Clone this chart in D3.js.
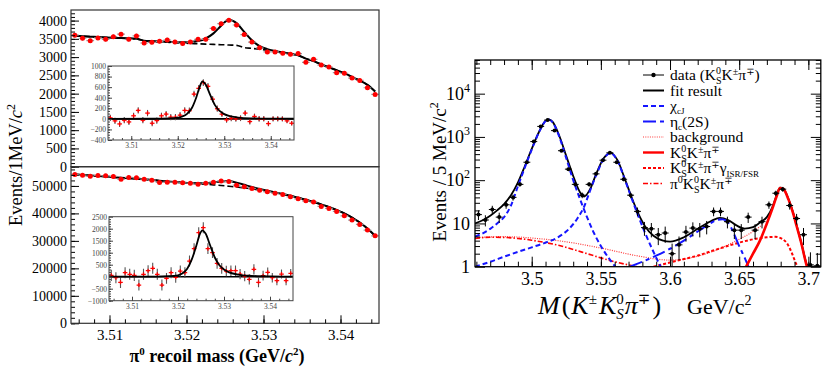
<!DOCTYPE html>
<html>
<head>
<meta charset="utf-8">
<script src="https://cdn.jsdelivr.net/npm/d3@7"></script>
<style>
  body { margin: 0; background: #fff; }
  #chart text { font-family: "Liberation Serif", "Times New Roman", "DejaVu Serif", serif !important; }
</style>
</head>
<body>
<svg id="chart" width="831" height="374"></svg>
<script>
const SERIF = "Liberation Serif, Times New Roman, serif";

// ---- left figure: pi0 recoil mass, 1 MeV bins 3.505 - 3.545 ----
const massBins = d3.range(40).map(i => 3.5055 + 0.001 * i);

const topCounts = [3600, 3516, 3450, 3525, 3488, 3560, 3628, 3488, 3580, 3386,
  3404, 3432, 3469, 3413, 3376, 3413, 3488, 3488, 3786, 3916,
  4009, 3879, 3618, 3413, 3255, 3143, 3143, 3106, 3077, 3096,
  2857, 2940, 2783, 2728, 2574, 2555, 2426, 2363, 2162, 1978];
const topFit = [3585, 3570, 3560, 3550, 3540, 3530, 3522, 3515, 3505, 3450,
  3440, 3430, 3420, 3412, 3405, 3412, 3440, 3510, 3650, 3860,
  4020, 3930, 3690, 3460, 3300, 3220, 3170, 3130, 3090, 3050,
  2960, 2890, 2800, 2720, 2640, 2560, 2460, 2360, 2240, 2060];
const topBkg = [3585, 3570, 3560, 3550, 3540, 3530, 3522, 3515, 3500, 3445,
  3432, 3420, 3408, 3395, 3385, 3375, 3365, 3355, 3348, 3340,
  3332, 3322, 3260, 3240, 3215, 3190, 3160, 3130, 3090, 3050,
  2960, 2890, 2800, 2720, 2640, 2560, 2460, 2360, 2240, 2060];

const botCounts = [54180, 53930, 53560, 53800, 53670, 53450, 52470, 53090, 52940, 52470,
  52110, 51270, 51380, 51380, 51130, 51020, 50650, 51020, 51380, 51750,
  51640, 50290, 49670, 49090, 48470, 47850, 47380, 46910, 46040, 45310,
  44580, 44110, 42540, 41820, 40730, 39130, 37560, 36000, 33930, 31850];
const botFit = [54200, 54000, 53800, 53600, 53400, 53200, 53000, 52800, 52600, 52400,
  52150, 51900, 51650, 51420, 51220, 51050, 50950, 51000, 51300, 51650,
  51750, 51200, 50400, 49600, 48900, 48250, 47650, 47050, 46400, 45700,
  44950, 44150, 43300, 42350, 41250, 40000, 38500, 36700, 34500, 31800];
const botBkg = [54200, 54000, 53800, 53600, 53400, 53200, 53000, 52800, 52600, 52400,
  52150, 51900, 51650, 51420, 51220, 51020, 50820, 50620, 50400, 50150,
  49880, 49600, 49280, 48920, 48520, 48100, 47600, 47050, 46400, 45700,
  44950, 44150, 43300, 42350, 41250, 40000, 38500, 36700, 34500, 31800];

// background-subtracted insets
const topSig = [19, -38, -96, -26, -58, 58, 160, -26, 109, -83,
  -32, 58, 90, 32, 32, 70, 160, 154, 468, 577,
  686, 615, 372, 192, 90, -19, 13, 0, 13, 109,
  -51, 45, 0, 0, -90, 0, 0, 0, -38, -83];
const topSigFitM = [3.505, 3.515, 3.518, 3.520, 3.521, 3.522, 3.523, 3.524, 3.5247, 3.5253,
  3.526, 3.527, 3.528, 3.529, 3.530, 3.531, 3.533, 3.536, 3.540, 3.545];
const topSigFitV = [0, 2, 8, 22, 45, 95, 200, 410, 600, 710,
  650, 450, 260, 150, 90, 55, 25, 10, 4, 2];

const botSig = [56, -42, -236, 167, 100, 56, -347, 100, 250, 347,
  100, -347, -69, 167, -28, 236, 167, 653, 1167, 1833,
  2042, 1167, 1000, 556, 347, 236, 250, 250, 111, 28,
  -111, 306, -236, 42, 181, -42, -167, 111, -167, 139];
const botSigFitM = [3.505, 3.515, 3.518, 3.520, 3.521, 3.522, 3.523, 3.524, 3.5247, 3.5253,
  3.526, 3.527, 3.528, 3.529, 3.530, 3.531, 3.533, 3.536, 3.540, 3.545];
const botSigFitV = [0, 5, 20, 60, 140, 330, 720, 1300, 1750, 1930,
  1800, 1300, 800, 480, 300, 190, 90, 35, 12, 5];

// ---- right figure: M(K K0s pi), 5 MeV bins ----
const kkpBins = d3.range(50).map(i => 3.4615 + 0.005 * i);
const kkpCounts = [16, 12, 21, 14, 27, 40, 80, 260, 780, 1750,
  2450, 1400, 480, 180, 80, 45, 80, 140, 290, 430,
  260, 105, 45, 19, 8, 7.5, 5.5, 6, 2, 3.2,
  6.3, 7.8, 7.5, 8.5, 19, 19, 11, 7, 7, 14,
  7, 11, 27, 50, 62, 26, 13, 5.5, 1.1, 1.05];

const fitTotal = [[3.459,10],[3.465,12],[3.47,15],[3.475,20],[3.48,28],[3.485,45],[3.49,88],[3.495,210],
  [3.50,530],[3.505,1250],[3.51,2350],[3.5125,2550],[3.515,2250],[3.52,1050],[3.525,360],[3.53,125],
  [3.535,52],[3.538,42],[3.542,60],[3.547,150],[3.552,320],[3.557,430],[3.562,290],[3.567,115],
  [3.572,42],[3.577,17],[3.582,8.5],[3.588,5.2],[3.595,4.0],[3.60,3.8],[3.61,4.8],[3.62,7.5],
  [3.63,11.5],[3.636,13.5],[3.642,12],[3.648,9],[3.654,7.6],[3.66,8.2],[3.665,10.5],[3.67,14],
  [3.674,24],[3.677,44],[3.6795,67],[3.682,63],[3.6856,37],[3.689,18],[3.6916,9],[3.695,3.5],[3.699,1.1],[3.701,0.9]];
const chic1 = [[3.459,5],[3.465,6],[3.47,7.5],[3.475,10],[3.48,14],[3.485,26],[3.49,72],[3.495,195],
  [3.50,510],[3.505,1230],[3.51,2330],[3.5125,2530],[3.515,2200],[3.52,1000],[3.525,320],[3.53,100],
  [3.535,36],[3.54,14],[3.545,6],[3.55,3],[3.555,1.7],[3.561,0.95]];
const chic2 = [[3.459,1],[3.47,1.3],[3.48,1.7],[3.49,2.2],[3.50,2.8],[3.51,3.6],[3.52,5],[3.527,7.5],
  [3.533,13],[3.538,25],[3.542,55],[3.547,140],[3.552,310],[3.557,420],[3.562,280],[3.567,110],
  [3.572,40],[3.577,15],[3.582,6],[3.587,2.6],[3.592,1.2],[3.594,0.9]];
const etac2S = [[3.571,1],[3.58,1.3],[3.59,1.8],[3.60,2.6],[3.61,4],[3.62,6.5],[3.628,9.5],[3.634,12],
  [3.638,12.5],[3.642,10.5],[3.646,6],[3.65,3],[3.654,1.6],[3.657,0.95]];
const bkgCurve = [[3.459,4.6],[3.47,4.9],[3.48,4.95],[3.49,4.85],[3.50,4.6],[3.51,4.3],[3.52,3.95],
  [3.53,3.55],[3.54,3.1],[3.55,2.7],[3.56,2.3],[3.57,1.95],[3.58,1.7],[3.59,1.5],[3.60,1.42],
  [3.61,1.5],[3.62,1.75],[3.63,2.2],[3.64,3],[3.65,4.3],[3.66,6.5],[3.667,9.5]];
const pi0Curve = [[3.459,4.5],[3.47,4.8],[3.48,4.75],[3.49,4.5],[3.50,4.1],[3.51,3.6],[3.52,3.1],
  [3.53,2.5],[3.54,2.0],[3.55,1.6],[3.56,1.3],[3.57,1.1],[3.58,0.95]];
const isrCurve = [[3.588,1],[3.60,1.25],[3.61,1.5],[3.62,1.8],[3.63,2.3],[3.64,2.9],[3.65,3.6],
  [3.66,4.3],[3.67,4.8],[3.676,4.9],[3.681,4.4],[3.685,3.3],[3.688,2.1],[3.691,1.2],[3.693,0.9]];
const kskpCurve = [[3.655,1],[3.66,2],[3.665,4],[3.67,10],[3.674,22],[3.677,42],[3.6795,66],
  [3.682,62],[3.6856,36],[3.689,17],[3.6916,8.5],[3.695,3.4],[3.699,1],[3.70,0.8]];

const svg = d3.select("#chart");
const noComma = d3.format("d");

function axisStyle(g, fs, col) {
  g.select(".domain").remove();
  g.selectAll(".tick line").attr("stroke", col);
  g.selectAll(".tick text").attr("font-family", SERIF).attr("font-size", fs).attr("fill", col);
}

// rich text: parts with baseline offsets
function rich(sel, parts) {
  let cur = 0;
  parts.forEach(p => {
    const ts = sel.append("tspan").text(p.t);
    const b = p.dy || 0;
    if (b - cur) ts.attr("dy", b - cur);
    cur = b;
    if (p.dx) ts.attr("dx", p.dx);
    if (p.fs) ts.attr("font-size", p.fs);
    if (p.it) ts.attr("font-style", "italic");
  });
  return sel;
}

function clip(id, x, y, w, h) {
  svg.append("clipPath").attr("id", id).append("rect")
    .attr("x", x).attr("y", y).attr("width", w).attr("height", h);
  return "url(#" + id + ")";
}

// ================= LEFT FIGURE =================
const xL = d3.scaleLinear([3.505, 3.545], [71, 379]);
const yTop = d3.scaleLinear([0, 4290], [166.7, 10]);
const yBot = d3.scaleLinear([0, 57000], [323.3, 166.7]);

function mainPanel(ys, counts, fit, bkg, major, minor, cid) {
  const [yb, yt] = ys.range();
  const cp = clip(cid, 71, yt, 308, yb - yt);
  const g = svg.append("g").attr("clip-path", cp);
  const line = d3.line().x((d, i) => xL(massBins[i])).y(d => ys(d)).curve(d3.curveMonotoneX);
  g.append("path").attr("d", line(bkg)).attr("fill", "none")
    .attr("stroke", "#000").attr("stroke-width", 1.6).attr("stroke-dasharray", "6,3");
  g.append("path").attr("d", line(fit)).attr("fill", "none")
    .attr("stroke", "#000").attr("stroke-width", 2);
  const pts = g.selectAll(".p").data(counts).join("g");
  pts.append("line")
    .attr("x1", (d, i) => xL(massBins[i] - 0.0005)).attr("x2", (d, i) => xL(massBins[i] + 0.0005))
    .attr("y1", d => ys(d)).attr("y2", d => ys(d)).attr("stroke", "#999").attr("stroke-width", 1.2);
  pts.append("line")
    .attr("x1", (d, i) => xL(massBins[i])).attr("x2", (d, i) => xL(massBins[i]))
    .attr("y1", d => ys(d - Math.sqrt(d))).attr("y2", d => ys(d + Math.sqrt(d)))
    .attr("stroke", "#999").attr("stroke-width", 1.2);
  pts.append("circle").attr("cx", (d, i) => xL(massBins[i])).attr("cy", d => ys(d))
    .attr("r", 2.5).attr("fill", "#f00");

  svg.append("g").attr("transform", "translate(71,0)")
    .call(d3.axisLeft(ys).tickValues(major).tickSize(-8).tickPadding(4).tickFormat(noComma))
    .call(g => axisStyle(g, 14, "#000"));
  svg.append("g").attr("transform", "translate(71,0)")
    .call(d3.axisLeft(ys).tickValues(minor).tickSize(-4).tickFormat(""))
    .call(g => axisStyle(g, 0, "#000"));
  svg.append("rect").attr("x", 71).attr("y", yt).attr("width", 308).attr("height", yb - yt)
    .attr("fill", "none").attr("stroke", "#333").attr("stroke-width", 1.2);
}

mainPanel(yTop, topCounts, topFit, topBkg, d3.range(0, 4001, 500), d3.range(0, 4290, 100), "cTop");
mainPanel(yBot, botCounts, botFit, botBkg, d3.range(0, 50001, 10000), d3.range(0, 57000, 2000), "cBot");

svg.append("g").attr("transform", "translate(0,323.3)")
  .call(d3.axisBottom(xL).tickValues([3.51, 3.52, 3.53, 3.54]).tickSize(-8).tickPadding(6).tickFormat(d3.format(".2f")))
  .call(g => axisStyle(g, 15, "#000"));
svg.append("g").attr("transform", "translate(0,323.3)")
  .call(d3.axisBottom(xL).tickValues(d3.range(3.506, 3.5449, 0.002)).tickSize(-4).tickFormat(""))
  .call(g => axisStyle(g, 0, "#000"));

function insetPanel(x0, x1, y0, y1, yDom, yMajor, yMinor, vals, errs, fitM, fitV, cid) {
  const xs = d3.scaleLinear([3.505, 3.545], [x0, x1]);
  const ys = d3.scaleLinear(yDom, [y1, y0]);
  svg.append("rect").attr("x", x0).attr("y", y0).attr("width", x1 - x0).attr("height", y1 - y0)
    .attr("fill", "#fff");
  const g = svg.append("g").attr("clip-path", clip(cid, x0, y0, x1 - x0, y1 - y0));
  g.append("line").attr("x1", x0).attr("x2", x1).attr("y1", ys(0)).attr("y2", ys(0))
    .attr("stroke", "#000").attr("stroke-width", 1.6);
  const pts = g.selectAll(".p").data(vals).join("g");
  pts.append("line")
    .attr("x1", (d, i) => xs(massBins[i])).attr("x2", (d, i) => xs(massBins[i]))
    .attr("y1", (d, i) => ys(d - errs[i])).attr("y2", (d, i) => ys(d + errs[i]))
    .attr("stroke", "#555").attr("stroke-width", 1.1);
  pts.append("line")
    .attr("x1", (d, i) => xs(massBins[i] - 0.0005)).attr("x2", (d, i) => xs(massBins[i] + 0.0005))
    .attr("y1", d => ys(d)).attr("y2", d => ys(d)).attr("stroke", "#f00").attr("stroke-width", 1.3);
  pts.append("line")
    .attr("x1", (d, i) => xs(massBins[i])).attr("x2", (d, i) => xs(massBins[i]))
    .attr("y1", d => ys(d) - 2).attr("y2", d => ys(d) + 2).attr("stroke", "#f00").attr("stroke-width", 1.3);
  const line = d3.line().x((d, i) => xs(fitM[i])).y(d => ys(d)).curve(d3.curveMonotoneX);
  g.append("path").attr("d", line(fitV)).attr("fill", "none").attr("stroke", "#000").attr("stroke-width", 1.8);

  svg.append("g").attr("transform", `translate(${x0},0)`)
    .call(d3.axisLeft(ys).tickValues(yMajor).tickSize(-4).tickPadding(2).tickFormat(noComma))
    .call(g => axisStyle(g, 7.5, "#444"));
  svg.append("g").attr("transform", `translate(${x0},0)`)
    .call(d3.axisLeft(ys).tickValues(yMinor).tickSize(-2).tickFormat(""))
    .call(g => axisStyle(g, 0, "#444"));
  svg.append("g").attr("transform", `translate(0,${y1})`)
    .call(d3.axisBottom(xs).tickValues([3.51, 3.52, 3.53, 3.54]).tickSize(-4).tickPadding(3).tickFormat(d3.format(".2f")))
    .call(g => axisStyle(g, 7.5, "#444"));
  svg.append("g").attr("transform", `translate(0,${y1})`)
    .call(d3.axisBottom(xs).tickValues(d3.range(3.506, 3.5449, 0.002)).tickSize(-2).tickFormat(""))
    .call(g => axisStyle(g, 0, "#444"));
  svg.append("rect").attr("x", x0).attr("y", y0).attr("width", x1 - x0).attr("height", y1 - y0)
    .attr("fill", "none").attr("stroke", "#444").attr("stroke-width", 1);
}

insetPanel(108, 294, 66, 140, [-400, 1000], d3.range(-400, 1001, 200), d3.range(-400, 1000, 50),
  topSig, topCounts.map(Math.sqrt), topSigFitM, topSigFitV, "cTI");
insetPanel(109, 293, 216.7, 300.7, [-1000, 2500], d3.range(-1000, 2501, 500), d3.range(-1000, 2500, 100),
  botSig, botCounts.map(Math.sqrt), botSigFitM, botSigFitV, "cBI");

// left axis titles
rich(svg.append("text").attr("transform", "translate(22,165) rotate(-90)")
  .attr("text-anchor", "middle").attr("font-size", 18.5),
  [{ t: "Events/1MeV/" }, { t: "c", it: 1 }, { t: "2", fs: 12, dy: -7 }]);
rich(svg.append("text").attr("x", 217).attr("y", 362)
  .attr("text-anchor", "middle").attr("font-size", 18).attr("font-weight", "bold"),
  [{ t: "π" }, { t: "0", fs: 11, dy: -7 }, { t: " recoil mass (GeV/", dy: 0 }, { t: "c", it: 1 },
   { t: "2", fs: 11, dy: -7 }, { t: ")", dy: 0 }]);

// ================= RIGHT FIGURE =================
const xR = d3.scaleLinear([3.459, 3.709], [475, 820.8]);
const yR = d3.scaleLog([1, 6e4], [266.7, 60]);
const cpR = clip("cR", 475, 60, 345.8, 206.7);
const gR = svg.append("g").attr("clip-path", cpR);
const lineR = d3.line().x(d => xR(d[0])).y(d => yR(d[1])).curve(d3.curveMonotoneX);

const curves = [
  { d: bkgCurve, c: "#ff3b3b", w: 1.2, dash: "1,1.3" },
  { d: pi0Curve, c: "#f00", w: 1.6, dash: "5,2,1.5,2" },
  { d: isrCurve, c: "#f00", w: 2, dash: "3,2" },
  { d: fitTotal, c: "#000", w: 1.8, dash: null },
  { d: chic1, c: "#1515ff", w: 2, dash: "5,3" },
  { d: chic2, c: "#1515ff", w: 2, dash: "5,3" },
  { d: etac2S, c: "#1515ff", w: 2, dash: "13,4,4,4" },
  { d: kskpCurve, c: "#f00", w: 2.6, dash: null }
];
curves.forEach(s => {
  gR.append("path").attr("d", lineR(s.d)).attr("fill", "none")
    .attr("stroke", s.c).attr("stroke-width", s.w).attr("stroke-dasharray", s.dash);
});

const dp = gR.selectAll(".d").data(kkpCounts).join("g");
dp.append("line")
  .attr("x1", (d, i) => xR(kkpBins[i])).attr("x2", (d, i) => xR(kkpBins[i]))
  .attr("y1", d => yR(Math.max(d - Math.sqrt(d), 0.3))).attr("y2", d => yR(d + Math.sqrt(d)))
  .attr("stroke", "#000").attr("stroke-width", 1);
dp.append("line")
  .attr("x1", (d, i) => xR(kkpBins[i] - 0.0025)).attr("x2", (d, i) => xR(kkpBins[i] + 0.0025))
  .attr("y1", d => yR(d)).attr("y2", d => yR(d)).attr("stroke", "#000").attr("stroke-width", 1);
dp.append("circle").attr("cx", (d, i) => xR(kkpBins[i])).attr("cy", d => yR(d))
  .attr("r", 2).attr("fill", "#000");

// right axes
const decades = [1, 10, 100, 1000, 10000];
const minorLog = yR.ticks().filter(v => !decades.includes(v));
svg.append("g").attr("transform", "translate(475,0)")
  .call(d3.axisLeft(yR).tickValues(decades).tickSize(-10).tickPadding(5))
  .call(g => axisStyle(g, 18, "#000"))
  .call(g => g.selectAll(".tick text").each(function (d) {
    const t = d3.select(this).text(null);
    if (d === 1) t.append("tspan").text("1");
    else if (d === 10) t.append("tspan").text("10");
    else {
      t.append("tspan").text("10");
      t.append("tspan").text(Math.round(Math.log10(d))).attr("font-size", 12).attr("dy", -8);
    }
  }));
svg.append("g").attr("transform", "translate(475,0)")
  .call(d3.axisLeft(yR).tickValues(minorLog).tickSize(-5).tickFormat(""))
  .call(g => axisStyle(g, 0, "#000"));
svg.append("g").attr("transform", "translate(820.8,0)")
  .call(d3.axisRight(yR).tickValues(decades).tickSize(-10).tickFormat(""))
  .call(g => axisStyle(g, 0, "#000"));
svg.append("g").attr("transform", "translate(820.8,0)")
  .call(d3.axisRight(yR).tickValues(minorLog).tickSize(-5).tickFormat(""))
  .call(g => axisStyle(g, 0, "#000"));

const xMajR = [3.5, 3.55, 3.6, 3.65, 3.7];
const xMinR = d3.range(3.46, 3.7085, 0.01);
svg.append("g").attr("transform", "translate(0,266.7)")
  .call(d3.axisBottom(xR).tickValues(xMajR).tickSize(-10).tickPadding(6).tickFormat(d3.format("")))
  .call(g => axisStyle(g, 18, "#000"));
svg.append("g").attr("transform", "translate(0,266.7)")
  .call(d3.axisBottom(xR).tickValues(xMinR).tickSize(-5).tickFormat(""))
  .call(g => axisStyle(g, 0, "#000"));
svg.append("g").attr("transform", "translate(0,60)")
  .call(d3.axisTop(xR).tickValues(xMajR).tickSize(-10).tickFormat(""))
  .call(g => axisStyle(g, 0, "#000"));
svg.append("g").attr("transform", "translate(0,60)")
  .call(d3.axisTop(xR).tickValues(xMinR).tickSize(-5).tickFormat(""))
  .call(g => axisStyle(g, 0, "#000"));
svg.append("rect").attr("x", 475).attr("y", 60).attr("width", 345.8).attr("height", 206.7)
  .attr("fill", "none").attr("stroke", "#000").attr("stroke-width", 1.3);

// right axis titles
rich(svg.append("text").attr("transform", "translate(446,172) rotate(-90)")
  .attr("text-anchor", "middle").attr("font-size", 19),
  [{ t: "Events / 5 MeV/c" }, { t: "2", fs: 12, dy: -8 }]);
rich(svg.append("text").attr("x", 538).attr("y", 314).attr("font-size", 26),
  [{ t: "M", it: 1 }, { t: "(", dx: 2 }, { t: "K", it: 1, dx: 1 }, { t: "±", fs: 15, dy: -10 },
   { t: "K", it: 1, dy: 0, dx: 2 }, { t: "0", fs: 15, dy: -10 }, { t: "S", fs: 15, it: 1, dy: 5, dx: -7.5 },
   { t: "π", it: 1, dy: 0, dx: 1 }, { t: "∓", fs: 15, dy: -10 }, { t: ")", dy: 0, dx: 2 },
   { t: "GeV/c", fs: 22, dx: 26 }, { t: "2", fs: 14, dy: -9 }]);

// legend
const legendRows = [
  { parts: [{ t: "data (K" }, { t: "0", fs: 10, dy: -6 }, { t: "S", fs: 10, dy: 4, dx: -5 },
            { t: "K", dy: 0 }, { t: "±", fs: 10, dy: -5 }, { t: "π", dy: 0 }, { t: "∓", fs: 10, dy: -5 }, { t: ")", dy: 0 }],
    c: "#000", w: 1, dash: null, dot: true },
  { parts: [{ t: "fit result" }], c: "#000", w: 2, dash: null },
  { parts: [{ t: "χ" }, { t: "cJ", fs: 9, dy: 3 }], c: "#1515ff", w: 2, dash: "5,3" },
  { parts: [{ t: "η" }, { t: "c", fs: 9, dy: 3 }, { t: "(2S)", dy: 0 }], c: "#1515ff", w: 2, dash: "13,4,4,4" },
  { parts: [{ t: "background" }], c: "#ff3b3b", w: 1.2, dash: "1,1.3" },
  { parts: [{ t: "K" }, { t: "0", fs: 10, dy: -6 }, { t: "S", fs: 10, dy: 4, dx: -5 },
            { t: "K", dy: 0 }, { t: "±", fs: 10, dy: -5 }, { t: "π", dy: 0 }, { t: "∓", fs: 10, dy: -5 }],
    c: "#f00", w: 2.4, dash: null },
  { parts: [{ t: "K" }, { t: "0", fs: 10, dy: -6 }, { t: "S", fs: 10, dy: 4, dx: -5 },
            { t: "K", dy: 0 }, { t: "±", fs: 10, dy: -5 }, { t: "π", dy: 0 }, { t: "∓", fs: 10, dy: -5 },
            { t: "γ", dy: 0 }, { t: "ISR/FSR", fs: 9, dy: 4 }],
    c: "#f00", w: 2, dash: "3,2" },
  { parts: [{ t: "π" }, { t: "0", fs: 10, dy: -6 }, { t: "K", dy: 0 }, { t: "0", fs: 10, dy: -6 },
            { t: "S", fs: 10, dy: 4, dx: -5 }, { t: "K", dy: 0 }, { t: "±", fs: 10, dy: -5 },
            { t: "π", dy: 0 }, { t: "∓", fs: 10, dy: -5 }],
    c: "#f00", w: 1.6, dash: "5,2,1.5,2" }
];
const legY = d3.scalePoint().domain(d3.range(legendRows.length)).range([75, 183.5]);
const lg = svg.append("g");
legendRows.forEach((r, i) => {
  const y = legY(i);
  lg.append("line").attr("x1", 643).attr("x2", 664).attr("y1", y).attr("y2", y)
    .attr("stroke", r.c).attr("stroke-width", r.w).attr("stroke-dasharray", r.dash);
  if (r.dot) lg.append("circle").attr("cx", 653.5).attr("cy", y).attr("r", 2.2).attr("fill", "#000");
  rich(lg.append("text").attr("x", 670).attr("y", y + 5).attr("font-size", 15.5), r.parts);
});
</script>
</body>
</html>
